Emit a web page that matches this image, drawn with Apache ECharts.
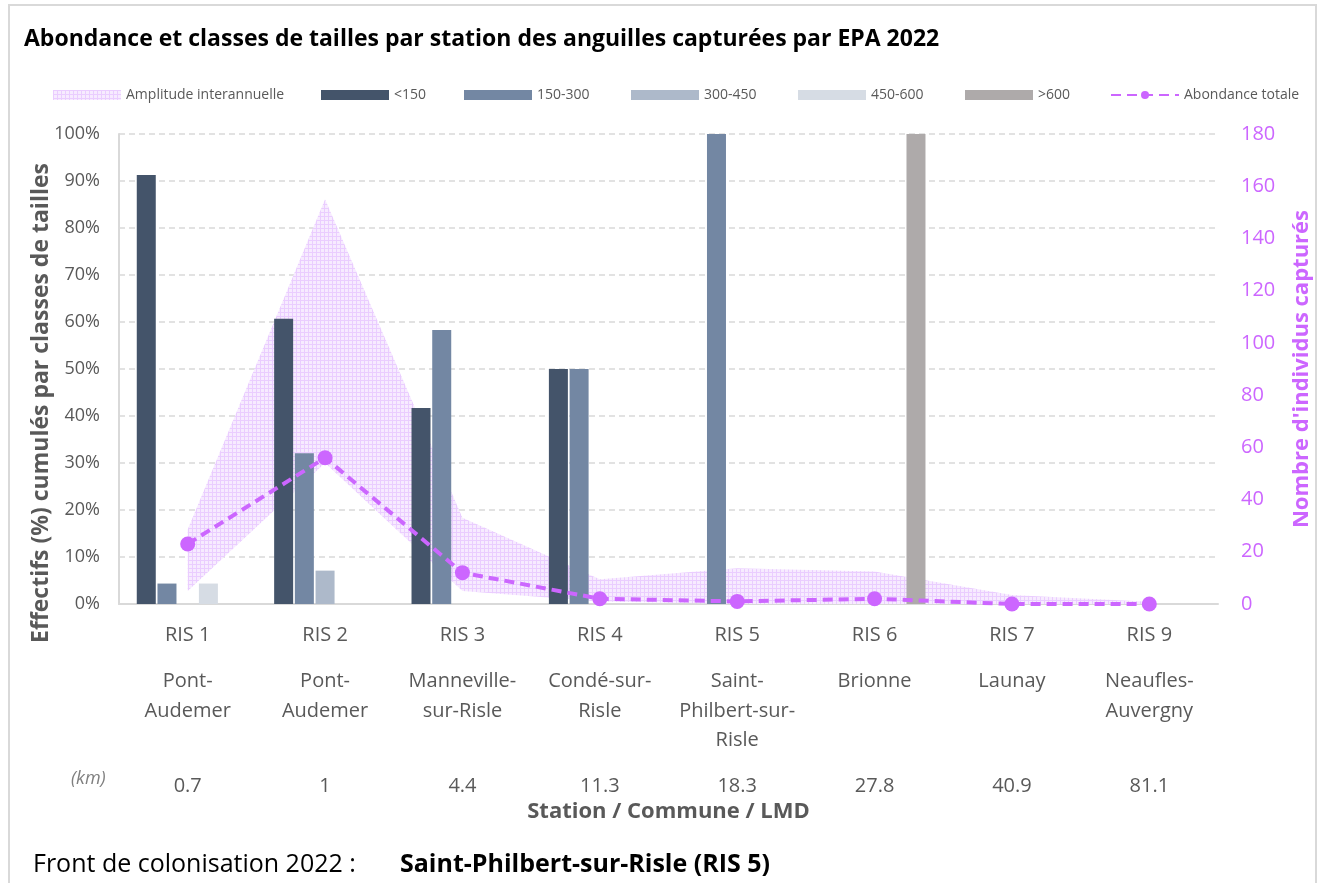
<!DOCTYPE html>
<html>
<head>
<meta charset="utf-8">
<script src="https://cdn.jsdelivr.net/npm/echarts@6/dist/echarts.min.js"></script>
<style>
  html, body { margin: 0; padding: 0; background: #fff; }
  #chart { width: 1321px; height: 883px; }
</style>
</head>
<body>
<div id="chart"></div>
<script>
// stations along the river, upstream order
const stations = ['RIS 1', 'RIS 2', 'RIS 3', 'RIS 4', 'RIS 5', 'RIS 6', 'RIS 7', 'RIS 9'];
const communes = [
    ['Pont-', 'Audemer'],
    ['Pont-', 'Audemer'],
    ['Manneville-', 'sur-Risle'],
    ['Condé-sur-', 'Risle'],
    ['Saint-', 'Philbert-sur-', 'Risle'],
    ['Brionne'],
    ['Launay'],
    ['Neaufles-', 'Auvergny']
];
const distancesKm = ['0.7', '1', '4.4', '11.3', '18.3', '27.8', '40.9', '81.1'];

// size classes, % of catch per station
const sizeClasses = ['<150', '150-300', '300-450', '450-600', '>600'];
const pctLt150 = [91.3, 60.7, 41.7, 50, 0, 0, 0, 0];
const pct150to300 = [4.35, 32.1, 58.3, 50, 100, 0, 0, 0];
const pct300to450 = [0, 7.1, 0, 0, 0, 0, 0, 0];
const pct450to600 = [4.35, 0, 0, 0, 0, 0, 0, 0];
const pctGt600 = [0, 0, 0, 0, 0, 100, 0, 0];

// number of eels caught (right axis)
const abondance2022 = [23, 56, 12, 2, 1, 2, 0, 0];
const amplitudeMin = [5, 54, 5, 1, 0, 0, 0, 0];
const amplitudeMax = [28.5, 155, 33, 9.5, 13.7, 12.4, 3.4, 0.9];

const pctTicks = [0, 10, 20, 30, 40, 50, 60, 70, 80, 90, 100];
const countTicks = [0, 20, 40, 60, 80, 100, 120, 140, 160, 180];

const barColors = ['#44546A', '#7387A3', '#ADB9CA', '#D6DCE4', '#AEAAAA'];
const purple = '#CC66FF';
const textGrey = '#595959';
const lineGrey = '#D9D9D9';
const FONT = '"Open Sans"';

// small checker pattern for the inter-annual band
let patternCanvas = document.createElement('canvas');
patternCanvas.width = 4;
patternCanvas.height = 4;
let pctx = patternCanvas.getContext('2d');
pctx.fillStyle = '#f7ebff';
pctx.fillRect(0, 0, 4, 4);
pctx.fillStyle = '#eacdff';
pctx.fillRect(0, 0, 4, 1);
pctx.fillRect(0, 0, 1, 4);
const bandFill = { image: patternCanvas, repeat: 'repeat' };

let chart = echarts.init(document.getElementById('chart'));

let bandSpan = amplitudeMax.map((v, i) => +(v - amplitudeMin[i]).toFixed(2));
let pctSeries = [pctLt150, pct150to300, pct300to450, pct450to600, pctGt600];

let barSeries = sizeClasses.map((name, i) => ({
    name: name,
    type: 'bar',
    yAxisIndex: 0,
    data: pctSeries[i],
    barWidth: 19,
    barGap: '9%',
    z: 3,
    itemStyle: { color: barColors[i] }
}));

let legendLefts = [48, 316, 459, 626, 793, 960, 1105];
let legendNames = ['Amplitude interannuelle'].concat(sizeClasses, ['Abondance totale']);
let legends = legendNames.map((name, i) => {
    let item = { name: name };
    if (i === 0) {
        item.icon = 'rect';
        item.itemStyle = { color: bandFill };
    } else if (i < 6) {
        item.icon = 'rect';
    }
    return {
        left: legendLefts[i],
        top: 83,
        itemWidth: 68,
        itemHeight: 10,
        selectedMode: false,
        textStyle: { color: textGrey, fontSize: 14, fontFamily: FONT },
        data: [item]
    };
});

function stationLabel(value, idx) {
    let lines = ['{r|' + value + '}'];
    for (let k = 0; k < 3; k++) {
        let t = communes[idx][k];
        lines.push('{c|' + (t ? t : '\u00a0') + '}');
    }
    lines.push('{k|' + distancesKm[idx] + '}');
    return lines.join('\n');
}

chart.setOption({
    animation: false,
    textStyle: { fontFamily: FONT },
    title: {
        text: 'Abondance et classes de tailles par station des anguilles capturées par EPA 2022',
        left: 19,
        top: 23,
        textStyle: { fontSize: 23, fontWeight: 'bold', color: '#000', fontFamily: FONT }
    },
    legend: legends,
    grid: { left: 119, right: 103, top: 134, bottom: 279 },
    xAxis: {
        type: 'category',
        data: stations,
        boundaryGap: true,
        axisLine: { lineStyle: { color: lineGrey, width: 2 } },
        axisTick: { length: 196, interval: 0, lineStyle: { color: lineGrey, width: 2 } },
        axisLabel: {
            interval: 0,
            margin: 0,
            color: textGrey,
            fontSize: 20,
            fontFamily: FONT,
            formatter: stationLabel,
            rich: {
                r: { fontSize: 20, lineHeight: 63, color: textGrey, fontFamily: FONT },
                c: { fontSize: 20, lineHeight: 29.5, color: textGrey, fontFamily: FONT },
                k: { fontSize: 20, lineHeight: 61, color: textGrey, fontFamily: FONT }
            }
        },
        name: 'Station / Commune / LMD',
        nameLocation: 'middle',
        nameGap: 197,
        nameTextStyle: { fontSize: 22, fontWeight: 'bold', color: textGrey, fontFamily: FONT }
    },
    yAxis: [
        {
            type: 'value',
            min: pctTicks[0],
            max: pctTicks[pctTicks.length - 1],
            interval: 10,
            axisLine: { show: true, lineStyle: { color: lineGrey, width: 2 } },
            axisTick: { show: false },
            axisLabel: { formatter: '{value}%', color: textGrey, fontSize: 18, margin: 19, fontFamily: FONT },
            splitLine: { lineStyle: { color: lineGrey, type: [6, 4], width: 1.5 } }
        },
        {
            type: 'value',
            min: countTicks[0],
            max: countTicks[countTicks.length - 1],
            interval: 20,
            position: 'right',
            axisLine: { show: false },
            axisTick: { show: false },
            splitLine: { show: false },
            axisLabel: { color: purple, fontSize: 20, margin: 23, fontFamily: FONT },
            name: "Nombre d'individus capturés",
            nameLocation: 'middle',
            nameRotate: 90,
            nameGap: 73,
            nameTextStyle: { fontSize: 22, fontWeight: 'bold', color: purple, fontFamily: FONT }
        }
    ],
    series: [
        {
            name: 'bandBase',
            type: 'line',
            yAxisIndex: 1,
            stack: 'amplitude',
            data: amplitudeMin,
            showSymbol: false,
            silent: true,
            z: 1,
            lineStyle: { opacity: 0 },
            areaStyle: { opacity: 0 }
        },
        {
            name: 'Amplitude interannuelle',
            type: 'line',
            yAxisIndex: 1,
            stack: 'amplitude',
            data: bandSpan,
            showSymbol: false,
            z: 1,
            itemStyle: { color: bandFill },
            lineStyle: { opacity: 0 },
            areaStyle: { color: bandFill, opacity: 1 }
        }
    ].concat(barSeries, [
        {
            name: 'Abondance totale',
            type: 'line',
            yAxisIndex: 1,
            data: abondance2022,
            z: 5,
            symbol: 'circle',
            symbolSize: 15,
            itemStyle: { color: purple },
            lineStyle: { color: purple, width: 4, type: [10, 6] }
        }
    ]),
    graphic: [
        {
            type: 'rect',
            shape: { x: 9, y: 5, width: 1307, height: 900 },
            style: { fill: 'none', stroke: '#D9D9D9', lineWidth: 2 },
            silent: true
        },
        {
            // left axis title, sits a bit below the plot centre as in the original
            type: 'text',
            x: 41,
            y: 403,
            rotation: Math.PI / 2,
            style: {
                text: 'Effectifs (%) cumulés par classes de tailles',
                align: 'center',
                verticalAlign: 'middle',
                fontSize: 23,
                fontWeight: 'bold',
                fill: textGrey,
                fontFamily: FONT
            }
        },
        {
            type: 'text',
            left: 71,
            top: 770,
            style: { text: '(km)', fontSize: 18, fontStyle: 'italic', fill: '#7F7F7F', fontFamily: FONT }
        },
        {
            type: 'text',
            left: 33,
            top: 852,
            style: { text: 'Front de colonisation 2022 :', fontSize: 25, fill: '#000', fontFamily: FONT }
        },
        {
            type: 'text',
            left: 400,
            top: 852,
            style: { text: 'Saint-Philbert-sur-Risle (RIS 5)', fontSize: 25, fontWeight: 'bold', fill: '#000', fontFamily: FONT }
        }
    ]
});
window.addEventListener('resize', () => chart.resize());
</script>
</body>
</html>
